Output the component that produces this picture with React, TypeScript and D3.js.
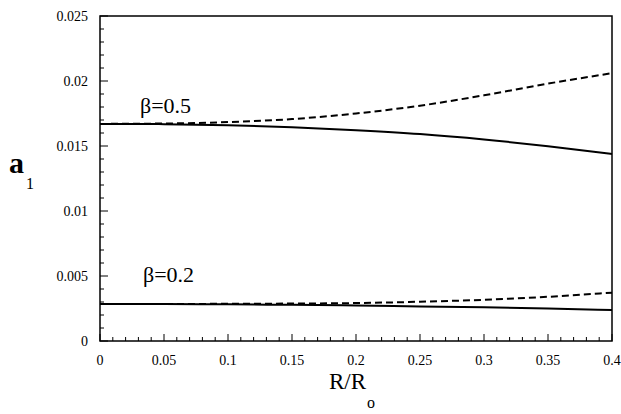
import React from 'react';
import * as d3 from 'd3';

// R/Ro sample points
const xValues = [0, 0.05, 0.1, 0.15, 0.2, 0.25, 0.3, 0.35, 0.4];

// beta = 0.5
const beta05Solid = [0.0167, 0.01668, 0.0166, 0.01645, 0.01622, 0.01592, 0.0155, 0.01498, 0.01438];
const beta05Dashed = [0.0167, 0.01673, 0.01684, 0.01707, 0.0175, 0.0181, 0.0189, 0.0198, 0.0206];

// beta = 0.2
const beta02Solid = [0.00285, 0.00284, 0.00282, 0.00278, 0.00273, 0.00266, 0.00259, 0.0025, 0.00238];
const beta02Dashed = [0.00285, 0.00285, 0.00286, 0.00288, 0.00292, 0.00302, 0.00317, 0.0034, 0.00372];

const xTicks = [0, 0.05, 0.1, 0.15, 0.2, 0.25, 0.3, 0.35, 0.4];
const xTickLabels = ['0', '0.05', '0.1', '0.15', '0.2', '0.25', '0.3', '0.35', '0.4'];
const yTicks = [0, 0.005, 0.01, 0.015, 0.02, 0.025];
const yTickLabels = ['0', '0.005', '0.01', '0.015', '0.02', '0.025'];

const W = 621;
const H = 414;
const margin = { left: 100, right: 9, top: 16, bottom: 73 };
const font = 'Times New Roman, Liberation Serif, Times, DejaVu Serif, serif';

const App = () => {
  const x = d3.scaleLinear().domain([0, 0.4]).range([margin.left, W - margin.right]);
  const y = d3.scaleLinear().domain([0, 0.025]).range([H - margin.bottom, margin.top]);

  const line = d3.line<number>()
    .x((_, i) => x(xValues[i]))
    .y(d => y(d))
    .curve(d3.curveMonotoneX);

  const x0 = x(0), x1 = x(0.4), y0 = y(0), y1 = y(0.025);

  // minor ticks every 0.01 on x, 0.001 on y
  const xMinor = d3.range(0, 41).map(i => i / 100).filter(v => Math.round(v * 100) % 5 !== 0);
  const yMinor = d3.range(0, 26).map(i => i / 1000).filter(v => Math.round(v * 1000) % 5 !== 0);

  const series = [
    { data: beta05Solid, dash: null },
    { data: beta05Dashed, dash: '7,4' },
    { data: beta02Solid, dash: null },
    { data: beta02Dashed, dash: '7,4' },
  ];

  return (
    <div style={{ position: 'fixed', left: 0, top: 0 }}>
      <svg width={W} height={H} fontFamily={font} style={{ display: 'block', background: '#fff' }}>
        <rect x={x0} y={y1} width={x1 - x0} height={y0 - y1} fill="none" stroke="#000" strokeWidth={1.5} />

        {xTicks.map((t, i) => (
          <g key={'xt' + i}>
            <line x1={x(t)} x2={x(t)} y1={y0} y2={y0 - 7} stroke="#000" strokeWidth={1} />
            <text x={x(t)} y={y0 + 24} textAnchor="middle" fontSize={14}>{xTickLabels[i]}</text>
          </g>
        ))}
        {xMinor.map((t, i) => (
          <line key={'xm' + i} x1={x(t)} x2={x(t)} y1={y0} y2={y0 - 4} stroke="#000" strokeWidth={1} />
        ))}

        {yTicks.map((t, i) => (
          <g key={'yt' + i}>
            <line x1={x0} x2={x0 + 8} y1={y(t)} y2={y(t)} stroke="#000" strokeWidth={1} />
            <text x={x0 - 12} y={y(t) + 5} textAnchor="end" fontSize={14}>{yTickLabels[i]}</text>
          </g>
        ))}
        {yMinor.map((t, i) => (
          <line key={'ym' + i} x1={x0} x2={x0 + 4} y1={y(t)} y2={y(t)} stroke="#000" strokeWidth={1} />
        ))}

        {series.map((s, i) => (
          <path key={'s' + i} d={line(s.data) || ''} fill="none" stroke="#000"
            strokeWidth={2} strokeDasharray={s.dash || undefined} />
        ))}

        <text x={140} y={113} fontSize={22}>β=0.5</text>
        <text x={143} y={282} fontSize={22}>β=0.2</text>

        <text x={9} y={173} fontSize={30} fontWeight="bold">
          a<tspan fontSize={16} fontWeight="normal" dx={2} dy={16}>1</tspan>
        </text>

        <text x={352} y={389} textAnchor="middle" fontSize={23}>
          R/R<tspan fontSize={16} dx={1} dy={19}>o</tspan>
        </text>
      </svg>
    </div>
  );
};

export default App;
